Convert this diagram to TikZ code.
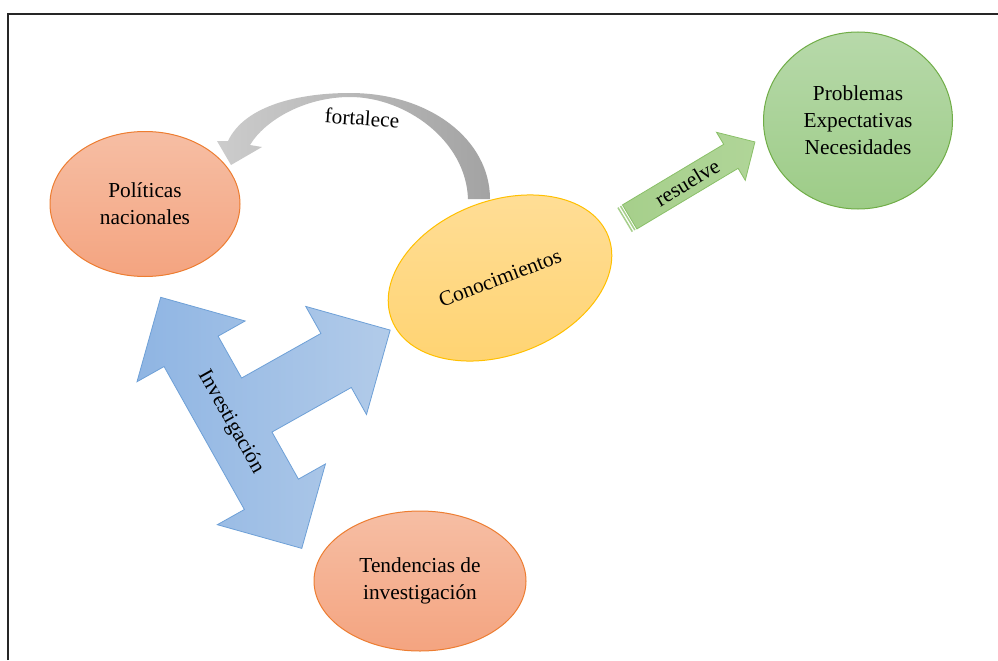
\documentclass[tikz,border=0pt]{standalone}
\usepackage{fontspec}
\setmainfont{Liberation Serif}
\usetikzlibrary{shapes.geometric}
\definecolor{orTop}{RGB}{246,190,164}
\definecolor{orBot}{RGB}{244,164,128}
\definecolor{orLine}{RGB}{237,125,49}
\definecolor{grTop}{RGB}{183,217,170}
\definecolor{grBot}{RGB}{157,204,135}
\definecolor{grLine}{RGB}{112,173,71}
\definecolor{yeTop}{RGB}{255,222,152}
\definecolor{yeBot}{RGB}{255,211,112}
\definecolor{yeLine}{RGB}{255,192,0}
\definecolor{gaFill}{RGB}{166,207,139}
\definecolor{gaFill2}{RGB}{176,213,152}
\definecolor{gaLine}{RGB}{138,192,104}
\definecolor{blL}{RGB}{143,181,227}
\definecolor{blR}{RGB}{178,203,233}
\definecolor{blLine}{RGB}{110,160,215}
\definecolor{gyHead}{RGB}{204,204,204}
\definecolor{gyTail}{RGB}{163,163,163}
\begin{document}
\begin{tikzpicture}[x=0.75pt,y=-0.75pt,
  oval/.style={ellipse, draw, line width=0.75pt, inner sep=0pt, align=center,
    font=\fontsize{16}{20.25}\selectfont},
  orangeoval/.style={oval, draw=orLine, top color=orTop, bottom color=orBot},
  greenoval/.style={oval, draw=grLine, top color=grTop, bottom color=grBot},
  yellowoval/.style={oval, draw=yeLine, top color=yeTop, bottom color=yeBot},
  lbl/.style={font=\fontsize{16}{20.25}\selectfont, inner sep=0pt},
  bluearrow/.style={draw=blLine, line width=0.6pt, left color=blL, right color=blR},
  greenarrow/.style={draw=gaLine, line width=0.6pt, left color=gaFill, right color=gaFill2},
  grayarrow/.style={draw=none, left color=gyHead, right color=gyTail}]
\useasboundingbox (0,0) rectangle (998,660);
\fill[white] (0,0) rectangle (998,660);
% frame
\draw[line width=1.6pt, black!85] (8,660) -- (8,14) -- (998,14);

% ellipses
\node[orangeoval, minimum width=142.5pt, minimum height=108.75pt] (pol) at (145,204) {Políticas\\nacionales};
\node[greenoval, minimum width=141.75pt, minimum height=132.75pt] (pro) at (858,120.5) {Problemas\\Expectativas\\Necesidades};
\node[orangeoval, minimum width=159pt, minimum height=105pt] (ten) at (420,581) {Tendencias de\\investigación};
\node[yellowoval, minimum width=174pt, minimum height=115.5pt, rotate=21] (con) at (500,278) {Conocimientos};

% gray curved arrow "fortalece"
\coordinate (gTailL) at (468,199);
\coordinate (gInTop) at (350,97);
\coordinate (gInHead) at (250,145);
\coordinate (gBarbR) at (262,147);
\coordinate (gTip) at (231,165);
\coordinate (gBarbL) at (217,141);
\coordinate (gOutHead) at (228,141);
\coordinate (gOutTop) at (350,93);
\coordinate (gTailR) at (490,199);
\path[grayarrow] (gTailL) .. controls (466,140) and (405,97) .. (gInTop)
  .. controls (305,97) and (265,120) .. (gInHead) -- (gBarbR) -- (gTip) -- (gBarbL) -- (gOutHead)
  .. controls (245,105) and (300,93) .. (gOutTop)
  .. controls (430,93) and (490,140) .. (gTailR) -- cycle;
\node[lbl, rotate=-4] (fort) at (362,118) {fortalece};

% green arrow "resuelve"
\begin{scope}[shift={(624.5,220)}, rotate=30.9]
  \coordinate (r1) at (0,-14);
  \coordinate (r2) at (1.5,-14);
  \coordinate (r3) at (1.5,14);
  \coordinate (r4) at (0,14);
  \coordinate (r5) at (3,-14);
  \coordinate (r6) at (4.5,-14);
  \coordinate (r7) at (4.5,14);
  \coordinate (r8) at (3,14);
  \coordinate (a1) at (6,-14);
  \coordinate (a2) at (124,-14);
  \coordinate (a3) at (124,-28);
  \coordinate (a4) at (152,0);
  \coordinate (a5) at (124,28);
  \coordinate (a6) at (124,14);
  \coordinate (a7) at (6,14);
  \coordinate (rtxt) at (73,0);
\end{scope}
\fill[gaFill] (r1) -- (r2) -- (r3) -- (r4) -- cycle;
\fill[gaFill] (r5) -- (r6) -- (r7) -- (r8) -- cycle;
\draw[greenarrow] (a1) -- (a2) -- (a3) -- (a4) -- (a5) -- (a6) -- (a7) -- cycle;
\node[lbl, rotate=30.9] (res) at (rtxt) {resuelve};

% blue three-way arrow "Investigación"
\begin{scope}[shift={(160.7,297.3)}, rotate=-60.67]
  \coordinate (b1) at (0,0);
  \coordinate (b2) at (62,-62);
  \coordinate (b3) at (62,-31);
  \coordinate (b4) at (110,-31);
  \coordinate (b5) at (110,-122);
  \coordinate (b6) at (79,-122);
  \coordinate (b7) at (141,-184);
  \coordinate (b8) at (203,-122);
  \coordinate (b9) at (172,-122);
  \coordinate (b10) at (172,-31);
  \coordinate (b11) at (226,-31);
  \coordinate (b12) at (226,-62);
  \coordinate (b13) at (288,0);
  \coordinate (b14) at (226,62);
  \coordinate (b15) at (226,31);
  \coordinate (b16) at (62,31);
  \coordinate (b17) at (62,62);
  \coordinate (btxt) at (143,0);
\end{scope}
\draw[bluearrow] (b1) -- (b2) -- (b3) -- (b4) -- (b5) -- (b6) -- (b7) -- (b8) -- (b9)
  -- (b10) -- (b11) -- (b12) -- (b13) -- (b14) -- (b15) -- (b16) -- (b17) -- cycle;
\node[lbl, rotate=-60.67] (inv) at (btxt) {Investigación};
\end{tikzpicture}
\end{document}
